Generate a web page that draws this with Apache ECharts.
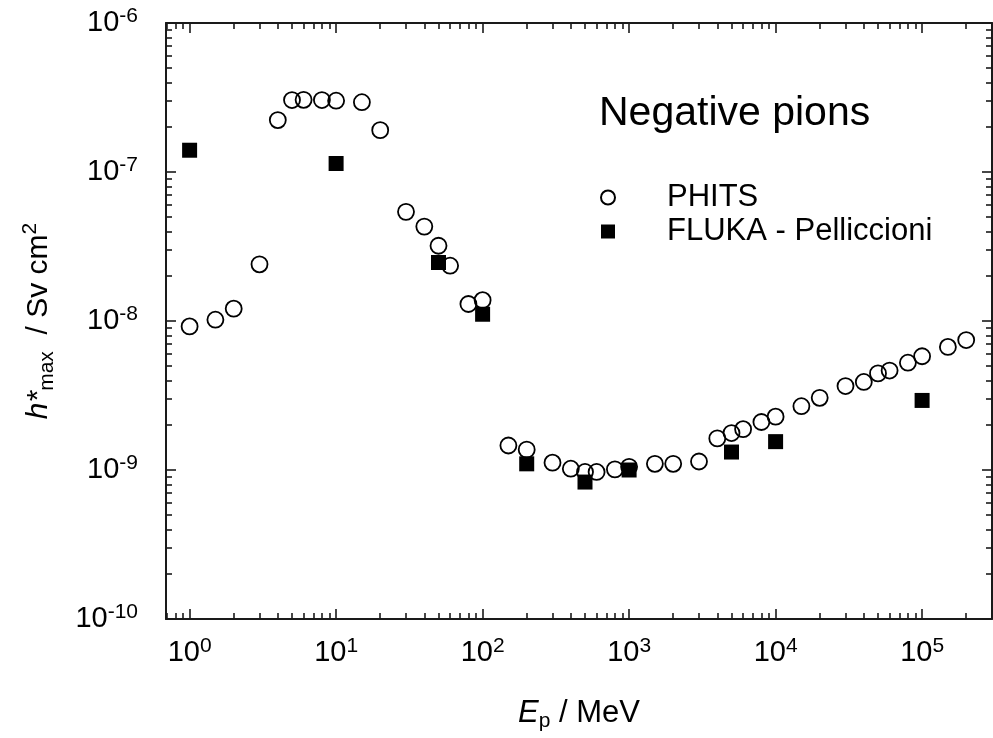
<!DOCTYPE html>
<html>
<head>
<meta charset="utf-8">
<title>Negative pions</title>
<script src="https://cdn.jsdelivr.net/npm/echarts@6.0.0/dist/echarts.min.js"></script>
<style>
  html, body { margin: 0; padding: 0; background: #fff; }
  #chart { width: 993px; height: 738px; }
</style>
</head>
<body>
<div id="chart"></div>
<script>
// Maximum ambient dose equivalent per fluence, negative pions
const phitsEnergy = [1, 1.5, 2, 3, 4, 5, 6, 8, 10, 15, 20, 30, 40, 50, 60, 80, 100,
  150, 200, 300, 400, 500, 600, 800, 1000, 1500, 2000, 3000, 4000, 5000, 6000, 8000,
  10000, 15000, 20000, 30000, 40000, 50000, 60000, 80000, 100000, 150000, 200000];
const phitsDose = [9.2e-9, 1.02e-8, 1.21e-8, 2.4e-8, 2.23e-7, 3.04e-7, 3.05e-7, 3.04e-7,
  3.01e-7, 2.94e-7, 1.91e-7, 5.4e-8, 4.3e-8, 3.2e-8, 2.35e-8, 1.3e-8, 1.38e-8,
  1.46e-9, 1.37e-9, 1.12e-9, 1.02e-9, 9.7e-10, 9.7e-10, 1.01e-9, 1.05e-9, 1.1e-9,
  1.1e-9, 1.14e-9, 1.63e-9, 1.77e-9, 1.88e-9, 2.1e-9, 2.28e-9, 2.68e-9, 3.05e-9,
  3.66e-9, 3.9e-9, 4.45e-9, 4.65e-9, 5.25e-9, 5.8e-9, 6.7e-9, 7.45e-9];

const flukaEnergy = [1, 10, 50, 100, 200, 500, 1000, 5000, 10000, 100000];
const flukaDose = [1.4e-7, 1.14e-7, 2.47e-8, 1.11e-8, 1.1e-9, 8.3e-10, 1.0e-9,
  1.32e-9, 1.55e-9, 2.93e-9];

const xMin = 0.69, xMax = 3e5;
const yMin = 1e-10, yMax = 1e-6;
const xMajorTicks = [1, 10, 100, 1000, 10000, 100000];
const yMajorTicks = [1e-10, 1e-9, 1e-8, 1e-7, 1e-6];

// minor ticks at 2..9 within each decade, clipped to the axis range
function minorTicks(lo, hi) {
  const out = [];
  for (let e = Math.floor(Math.log10(lo)); e <= Math.ceil(Math.log10(hi)); e++) {
    for (let k = 2; k <= 9; k++) {
      const v = k * Math.pow(10, e);
      if (v > lo && v < hi) out.push(v);
    }
  }
  return out;
}
const xMinorTicks = minorTicks(xMin, xMax);
const yMinorTicks = minorTicks(yMin, yMax);

const FONT = '"Liberation Sans", Arial, Helvetica, sans-serif';
const INK = '#000';
const AXIS = '#1a1a1a';

const powRich = {
  b: { fontSize: 29, lineHeight: 34, color: INK, fontFamily: FONT },
  s: { fontSize: 21, lineHeight: 20, color: INK, fontFamily: FONT, verticalAlign: 'top' }
};
function powLabel(v) {
  const e = Math.round(Math.log10(v));
  return '{b|10}{s|' + e + '}';
}

function axisPair(kind, position, ticksMajor, ticksMinor, lo, hi, withLabels) {
  const base = {
    type: 'log', logBase: 10, min: lo, max: hi, position: position,
    gridIndex: 0, offset: 0, splitLine: { show: false }, minorTick: { show: false },
    axisPointer: { show: false }
  };
  const major = Object.assign({}, base, {
    axisLine: { show: true, lineStyle: { color: AXIS, width: 2 } },
    axisTick: { show: true, inside: true, length: 10, customValues: ticksMajor,
      lineStyle: { color: AXIS, width: 1.6 } },
    axisLabel: withLabels ? {
      show: true, customValues: ticksMajor, formatter: powLabel, rich: powRich,
      margin: kind === 'x' ? 17 : 28
    } : { show: false }
  });
  const minor = Object.assign({}, base, {
    axisLine: { show: false },
    axisTick: { show: true, inside: true, length: 6, customValues: ticksMinor,
      lineStyle: { color: AXIS, width: 1.6 } },
    axisLabel: { show: false }
  });
  return [major, minor];
}

const xAxes = [
  ...axisPair('x', 'bottom', xMajorTicks, xMinorTicks, xMin, xMax, true),
  ...axisPair('x', 'top', xMajorTicks, xMinorTicks, xMin, xMax, false)
];
Object.assign(xAxes[0], {
  name: '{i|E}{sub|p}{n| / MeV}',
  nameLocation: 'middle',
  nameGap: 75,
  nameTextStyle: {
    rich: {
      i: { fontSize: 31, lineHeight: 38, fontStyle: 'italic', color: INK, fontFamily: FONT },
      sub: { fontSize: 21, lineHeight: 21, color: INK, fontFamily: FONT, verticalAlign: 'bottom' },
      n: { fontSize: 31, lineHeight: 38, color: INK, fontFamily: FONT }
    }
  }
});

const yAxes = [
  ...axisPair('y', 'left', yMajorTicks, yMinorTicks, yMin, yMax, true),
  ...axisPair('y', 'right', yMajorTicks, yMinorTicks, yMin, yMax, false)
];
Object.assign(yAxes[0], {
  name: '{i|h*}{sub|max}{n|  / Sv cm}{sup|2}',
  nameLocation: 'middle',
  nameGap: 108,
  nameTextStyle: {
    rich: {
      i: { fontSize: 30, lineHeight: 38, fontStyle: 'italic', color: INK, fontFamily: FONT },
      sub: { fontSize: 21, lineHeight: 21, color: INK, fontFamily: FONT, verticalAlign: 'bottom' },
      n: { fontSize: 30, lineHeight: 38, color: INK, fontFamily: FONT },
      sup: { fontSize: 21, lineHeight: 21, color: INK, fontFamily: FONT, verticalAlign: 'top' }
    }
  }
});

const chart = echarts.init(document.getElementById('chart'), null, { renderer: 'canvas' });
chart.setOption({
  animation: false,
  backgroundColor: '#fff',
  textStyle: { fontFamily: FONT },
  title: {
    text: 'Negative pions',
    left: 594, top: 88,
    textStyle: { fontSize: 41, fontWeight: 'normal', color: INK, fontFamily: FONT }
  },
  legend: {
    orient: 'vertical',
    left: 600, top: 182,
    itemWidth: 14, itemHeight: 14, itemGap: 3,
    padding: 0,
    data: [
      { name: 'PHITS', icon: 'circle' },
      { name: 'FLUKA - Pelliccioni', icon: 'rect' }
    ],
    formatter: name => '{gap|}{t|' + name + '}',
    textStyle: {
      rich: {
        gap: { width: 47 },
        t: { fontSize: 31, lineHeight: 31, color: INK, fontFamily: FONT }
      }
    }
  },
  grid: { left: 166, right: 1, top: 23, bottom: 119, containLabel: false },
  xAxis: xAxes,
  yAxis: yAxes,
  series: [
    {
      name: 'PHITS',
      type: 'scatter',
      xAxisIndex: 0, yAxisIndex: 0,
      symbol: 'circle',
      symbolSize: 16,
      itemStyle: { color: 'rgba(255,255,255,0)', borderColor: '#000', borderWidth: 1.8, opacity: 1 },
      emphasis: { disabled: true },
      data: phitsEnergy.map((e, i) => [e, phitsDose[i]])
    },
    {
      name: 'FLUKA - Pelliccioni',
      type: 'scatter',
      xAxisIndex: 0, yAxisIndex: 0,
      symbol: 'rect',
      symbolSize: 15,
      itemStyle: { color: '#000', borderWidth: 0, opacity: 1 },
      emphasis: { disabled: true },
      data: flukaEnergy.map((e, i) => [e, flukaDose[i]])
    }
  ]
});
</script>
</body>
</html>
